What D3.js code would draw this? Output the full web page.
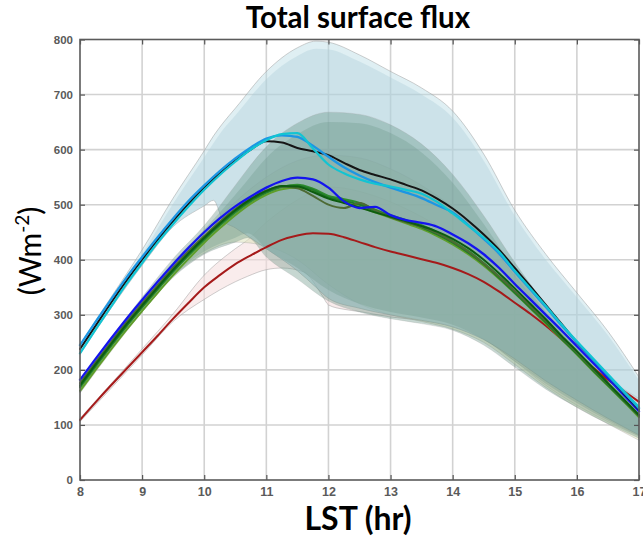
<!DOCTYPE html>
<html>
<head>
<meta charset="utf-8">
<script src="https://cdn.jsdelivr.net/npm/d3@7"></script>
<style>
  body { margin: 0; background: #fff; }
  svg { display: block; }
</style>
</head>
<body>
<svg id="chart" width="643" height="537"></svg>
<script>
// ---- axis ticks ----
const hourTicks = [8, 9, 10, 11, 12, 13, 14, 15, 16, 17];
const fluxTicks = [0, 100, 200, 300, 400, 500, 600, 700, 800];

// ---- mean diurnal curves (W m-2), sampled every 15 min ----
const lineHours = [8, 8.25, 8.5, 8.75, 9, 9.25, 9.5, 9.75, 10, 10.25, 10.5, 10.75, 11, 11.25, 11.5, 11.75,
  12, 12.25, 12.5, 12.75, 13, 13.25, 13.5, 13.75, 14, 14.25, 14.5, 14.75, 15, 15.25, 15.5, 15.75,
  16, 16.25, 16.5, 16.75, 17];

const blackFlux  = [238, 280, 322, 362, 400, 436, 470, 502, 531, 557, 580, 600, 615, 613, 603, 597,
  590, 576, 563, 554, 546, 536, 526, 511, 493, 471, 446, 418, 385, 352, 318, 284, 250, 220, 190, 158, 128];
const cyanFlux   = [230, 273, 315, 356, 394, 431, 465, 497, 527, 554, 578, 600, 617, 628, 630, 602,
  573, 557, 546, 538, 533, 527, 520, 505, 484, 462, 440, 414, 380, 348, 316, 283, 252, 222, 192, 162, 132];
const skyFlux    = [245, 287, 328, 368, 405, 441, 475, 507, 535, 561, 584, 604, 620, 626, 623, 607,
  587, 568, 553, 541, 531, 522, 512, 499, 486, 463, 438, 411, 378, 346, 314, 281, 250, 220, 190, 160, 130];
const blueFlux   = [182, 220, 257, 293, 327, 360, 392, 422, 450, 475, 497, 515, 531, 543, 549, 546,
  531, 506, 494, 496, 481, 472, 467, 460, 446, 430, 410, 385, 356, 328, 300, 272, 243, 214, 185, 155, 125];
const green1Flux = [172, 210, 247, 283, 317, 350, 382, 412, 440, 466, 490, 510, 525, 534, 533, 523,
  511, 503, 495, 486, 478, 470, 461, 451, 438, 421, 400, 375, 348, 320, 292, 262, 234, 205, 176, 147, 118];
const green2Flux = [168, 206, 243, 279, 313, 346, 378, 408, 436, 462, 486, 506, 522, 532, 536, 529,
  516, 510, 503, 491, 481, 472, 463, 450, 434, 416, 394, 369, 342, 315, 287, 258, 230, 201, 173, 145, 116];
const green3Flux = [176, 214, 251, 287, 321, 354, 386, 416, 443, 469, 492, 511, 526, 533, 530, 516,
  500, 494, 503, 490, 477, 468, 460, 448, 433, 415, 393, 369, 343, 316, 289, 260, 232, 203, 175, 146, 117];
const green4Flux = [162, 200, 237, 273, 307, 340, 372, 402, 431, 457, 481, 502, 518, 528, 531, 525,
  514, 505, 496, 486, 476, 466, 456, 443, 428, 410, 389, 365, 339, 312, 284, 256, 228, 199, 171, 143, 114];
const green5Flux = [170, 208, 245, 281, 315, 348, 380, 410, 438, 464, 488, 508, 523, 533, 534, 527,
  513, 507, 500, 489, 479, 469, 459, 446, 431, 413, 392, 367, 340, 313, 286, 257, 229, 200, 172, 144, 116];
const redFlux    = [109, 141, 172, 202, 232, 262, 293, 322, 350, 372, 392, 408, 423, 436, 444, 448,
  447, 441, 432, 423, 415, 408, 401, 394, 385, 374, 360, 342, 322, 302, 280, 256, 230, 205, 182, 162, 142];

// ---- spread envelopes (W m-2) ----
const skyBandHours = [8, 8.5, 9, 9.5, 10, 10.15, 10.3, 10.5, 11, 11.5, 11.8, 12, 12.5, 13, 13.5, 14, 14.5, 15, 15.5, 16, 16.5, 17];
const skyOuterHigh = [246, 332, 418, 512, 598, 625, 648, 675, 742, 785, 797, 795, 772, 742, 712, 670, 592, 490, 410, 340, 270, 187];
const skyInnerHigh = [242, 326, 410, 502, 586, 612, 636, 662, 728, 770, 783, 782, 760, 731, 700, 658, 580, 480, 400, 332, 263, 181];
const skyBandLow   = [229, 312, 390, 460, 498, 508, 472, 458, 420, 380, 350, 330, 312, 300, 290, 278, 255, 220, 180, 145, 112, 82];

const greenBandHours = [8, 8.5, 9, 9.5, 10, 10.5, 10.7, 11, 11.5, 12, 12.5, 13, 13.5, 14, 14.5, 15, 15.5, 16, 16.5, 17];
const greenAHigh = [182, 258, 332, 402, 462, 535, 565, 605, 648, 668, 664, 645, 610, 555, 480, 395, 318, 250, 188, 135];
const greenALow  = [158, 236, 305, 368, 410, 432, 440, 405, 365, 325, 305, 293, 284, 272, 245, 205, 165, 132, 102, 76];
const greenBHigh = [178, 254, 328, 396, 455, 518, 545, 585, 628, 650, 648, 630, 595, 540, 465, 382, 305, 240, 180, 130];
const greenBLow  = [162, 240, 310, 372, 415, 440, 448, 420, 385, 345, 320, 305, 295, 282, 255, 215, 175, 140, 108, 80];

const oliveBandHours = [8, 9, 9.5, 10, 10.5, 11, 11.5, 12, 12.5, 13, 13.5, 14, 14.5, 15, 15.5, 16, 16.5, 17];
const oliveHigh = [170, 322, 390, 450, 505, 550, 580, 590, 585, 565, 535, 495, 440, 370, 300, 235, 178, 125];
const oliveLow  = [158, 305, 370, 412, 432, 425, 400, 355, 320, 300, 288, 274, 250, 210, 168, 132, 102, 72];

const pinkBandHours = [8, 9, 9.5, 10, 10.5, 10.7, 11, 11.25, 11.6, 11.9, 12, 12.25, 12.5, 13, 13.5, 14, 14.5, 15, 15.5, 16, 16.5, 17];
const pinkHigh = [112, 238, 302, 372, 420, 436, 468, 490, 515, 530, 532, 530, 524, 505, 478, 445, 400, 345, 288, 232, 185, 148];
const pinkLow  = [106, 227, 288, 328, 360, 370, 382, 385, 378, 335, 318, 310, 306, 296, 290, 279, 256, 216, 172, 136, 106, 80];

// ---- layout ----
const svg = d3.select("#chart");
const plotLeft = 80, plotRight = 639, plotTop = 39.5, plotBottom = 480;
const x = d3.scaleLinear().domain([8, 17]).range([plotLeft, plotRight]);
const y = d3.scaleLinear().domain([0, 800]).range([plotBottom, plotTop]);

// grid
const grid = svg.append("g").attr("stroke", "#d2d2d2").attr("stroke-width", 1.6);
grid.selectAll("line.v").data(hourTicks.slice(1, -1)).join("line").attr("class", "v")
  .attr("x1", d => x(d)).attr("x2", d => x(d)).attr("y1", plotTop).attr("y2", plotBottom);
grid.selectAll("line.h").data(fluxTicks.slice(1, -1)).join("line").attr("class", "h")
  .attr("x1", plotLeft).attr("x2", plotRight).attr("y1", d => y(d)).attr("y2", d => y(d));

// envelopes
const bands = [
  { hours: pinkBandHours,  hi: pinkHigh,     lo: pinkLow,    fill: "#f4dcdc", op: 0.55, edge: 0.6 },
  { hours: oliveBandHours, hi: oliveHigh,    lo: oliveLow,   fill: "#dfe3bd", op: 0.55, edge: 0.4 },
  { hours: skyBandHours,   hi: skyOuterHigh, lo: skyBandLow, fill: "#b9dbe4", op: 0.45, edge: 0.6 },
  { hours: skyBandHours,   hi: skyInnerHigh, lo: skyBandLow, fill: "#a9ccd6", op: 0.35, edge: 0.0 },
  { hours: greenBandHours, hi: greenAHigh,   lo: greenALow,  fill: "#588a78", op: 0.34, edge: 0.3 },
  { hours: greenBandHours, hi: greenBHigh,   lo: greenBLow,  fill: "#6a9488", op: 0.30, edge: 0.0 }
];
const area = d3.area()
  .x(d => x(d.h)).y0(d => y(d.lo)).y1(d => y(d.hi))
  .curve(d3.curveMonotoneX);
const bandG = svg.append("g");
bands.forEach(b => {
  const rows = b.hours.map((h, i) => ({ h, lo: b.lo[i], hi: b.hi[i] }));
  bandG.append("path").datum(rows)
    .attr("d", area)
    .attr("fill", b.fill).attr("fill-opacity", b.op)
    .attr("stroke", "#9a9a9a").attr("stroke-opacity", b.edge).attr("stroke-width", 0.8);
});

// mean curves
const series = [
  { v: redFlux,    color: "#a51a1a", w: 2.0 },
  { v: green4Flux, color: "#5f9e2a", w: 2.0 },
  { v: green2Flux, color: "#2e8b2e", w: 2.0 },
  { v: green5Flux, color: "#1f7a28", w: 2.0 },
  { v: green3Flux, color: "#4d6a34", w: 2.0 },
  { v: green1Flux, color: "#0d5c10", w: 2.0 },
  { v: blueFlux,   color: "#1414ee", w: 2.3 },
  { v: blackFlux,  color: "#151515", w: 2.0 },
  { v: skyFlux,    color: "#1c96e4", w: 2.3 },
  { v: cyanFlux,   color: "#12c4d2", w: 2.2 }
];
const line = d3.line().x((d, i) => x(lineHours[i])).y(d => y(d)).curve(d3.curveMonotoneX);
svg.append("g").attr("fill", "none").selectAll("path").data(series).join("path")
  .attr("d", d => line(d.v))
  .attr("stroke", d => d.color).attr("stroke-width", d => d.w)
  .attr("stroke-linejoin", "round").attr("stroke-linecap", "round");

// axes
const tickFont = "'Liberation Sans', Arial, sans-serif";
const styleAxis = g => {
  g.select(".domain").remove();
  g.selectAll(".tick line").attr("stroke", "#555").attr("stroke-width", 1.2);
  g.selectAll(".tick text").attr("fill", "#5a5a5a").attr("font-weight", "bold")
    .attr("font-family", tickFont);
};
svg.append("g").attr("transform", `translate(0,${plotBottom})`)
  .call(d3.axisBottom(x).tickValues(hourTicks).tickSize(-5).tickPadding(7).tickFormat(d3.format("d")))
  .call(styleAxis).call(g => g.selectAll(".tick text").attr("font-size", 12.5));
svg.append("g").attr("transform", `translate(${plotLeft},0)`)
  .call(d3.axisLeft(y).tickValues(fluxTicks).tickSize(-5).tickPadding(7).tickFormat(d3.format("d")))
  .call(styleAxis).call(g => g.selectAll(".tick text").attr("font-size", 11.5));
svg.append("g").attr("transform", `translate(0,${plotTop})`)
  .call(d3.axisTop(x).tickValues(hourTicks).tickSize(-5).tickFormat(""))
  .call(styleAxis);
svg.append("g").attr("transform", `translate(${plotRight},0)`)
  .call(d3.axisRight(y).tickValues(fluxTicks).tickSize(-5).tickFormat(""))
  .call(styleAxis);

// frame
svg.append("rect")
  .attr("x", plotLeft).attr("y", plotTop).attr("width", plotRight - plotLeft).attr("height", plotBottom - plotTop)
  .attr("fill", "none").attr("stroke", "#5a5a5a").attr("stroke-width", 1.6);

// titles
const titleFont = "Lato, 'Open Sans', sans-serif";
svg.append("text").attr("x", 358).attr("y", 28).attr("text-anchor", "middle")
  .attr("font-family", titleFont).attr("font-weight", "bold").attr("font-size", 29.5)
  .text("Total surface flux");
svg.append("text").attr("x", 358).attr("y", 530).attr("text-anchor", "middle")
  .attr("font-family", titleFont).attr("font-weight", "bold").attr("font-size", 32)
  .text("LST (hr)");
const yl = svg.append("text").attr("transform", "translate(41,251) rotate(-90)")
  .attr("text-anchor", "middle").attr("font-family", titleFont).attr("font-size", 30);
yl.append("tspan").text("(Wm");
yl.append("tspan").attr("dy", -12).attr("font-size", 19).text("-2");
yl.append("tspan").attr("dy", 12).text(")");
</script>
</body>
</html>
